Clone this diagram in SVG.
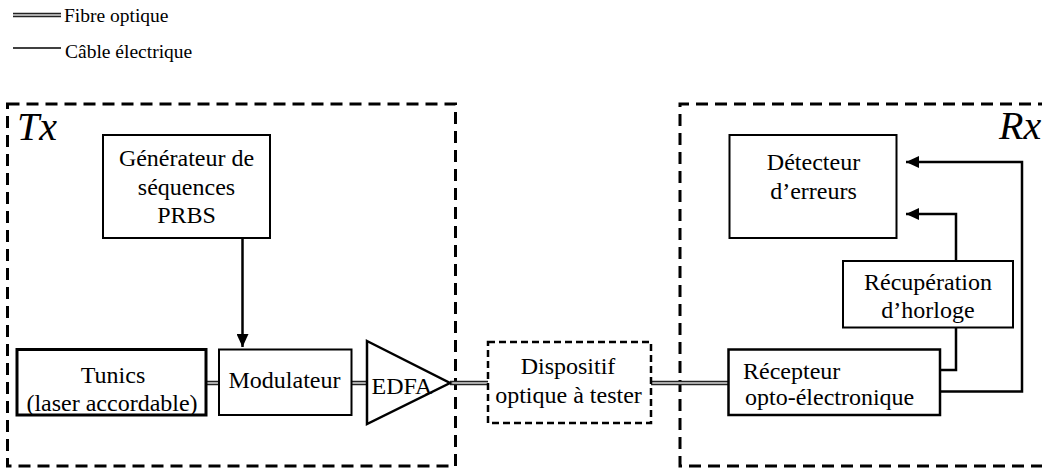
<svg xmlns="http://www.w3.org/2000/svg" width="1042" height="468" viewBox="0 0 1042 468">
<style>
text{font-family:"Liberation Serif","Times New Roman",serif;fill:#000}
.lbl{font-size:24px;text-anchor:middle}
.leg{font-size:19.5px}
.big{font-size:40px;font-style:italic}
.box{fill:#fff;stroke:#000;stroke-width:2}
.zone{fill:none;stroke:#000;stroke-width:3;stroke-dasharray:12 7}
.fo{fill:none;stroke:#222;stroke-width:4.5}
.fi{fill:none;stroke:#aaa;stroke-width:2}
.el{fill:none;stroke:#000;stroke-width:2.5}
</style>
<defs>
<marker id="ah" markerUnits="userSpaceOnUse" markerWidth="14" markerHeight="12" refX="13" refY="6" orient="auto">
<path d="M0,0 L13,6 L0,12 Z" fill="#000"/>
</marker>
</defs>
<g id="legend">
<line class="fo" x1="13" y1="15" x2="61" y2="15"/>
<line class="fi" x1="13" y1="15" x2="61" y2="15"/>
<text class="leg" x="64" y="21.5">Fibre optique</text>
<line x1="13" y1="48" x2="61" y2="48" stroke="#000" stroke-width="1.5"/>
<text class="leg" x="65" y="58">Câble électrique</text>
</g>
<g id="Tx">
<rect class="zone" x="7.5" y="104" width="448" height="362"/>
<text class="big" x="17" y="140">Tx</text>
</g>
<g id="Rx">
<path class="zone" d="M1050,104 H680 V466 H1050"/>
<text class="big" x="999" y="139">Rx</text>
</g>
<g id="connectors">
<line class="fo" x1="206" y1="383" x2="219" y2="383"/>
<line class="fi" x1="206" y1="383" x2="219" y2="383"/>
<line class="fo" x1="352" y1="383" x2="367" y2="383"/>
<line class="fi" x1="352" y1="383" x2="367" y2="383"/>
<line class="fo" x1="450" y1="383" x2="488" y2="383"/>
<line class="fi" x1="450" y1="383" x2="488" y2="383"/>
<line class="fo" x1="651" y1="383" x2="728" y2="383"/>
<line class="fi" x1="651" y1="383" x2="728" y2="383"/>
<line class="el" x1="242.5" y1="238" x2="242.5" y2="347" marker-end="url(#ah)"/>
<path class="el" d="M940,370 H956 V327"/>
<path class="el" d="M956,261 V214 H906" marker-end="url(#ah)"/>
<path class="el" d="M940,391.5 H1022 V162 H906" marker-end="url(#ah)"/>
</g>
<g id="generateur">
<rect class="box" x="103" y="135" width="167" height="103"/>
<text class="lbl" x="186.5" y="166">Générateur de</text>
<text class="lbl" x="186.5" y="195">séquences</text>
<text class="lbl" x="186.5" y="223">PRBS</text>
</g>
<g id="tunics">
<rect class="box" style="stroke-width:3" x="17" y="349.5" width="189" height="65.5"/>
<text class="lbl" x="113" y="383">Tunics</text>
<text class="lbl" x="112" y="410.5">(laser accordable)</text>
</g>
<g id="modulateur">
<rect class="box" x="219" y="349.5" width="132.5" height="65.5"/>
<text class="lbl" x="284.5" y="388">Modulateur</text>
</g>
<g id="edfa">
<path d="M367,341 L450,383 L367,424 Z" fill="#fff" stroke="#000" stroke-width="2.5"/>
<text class="lbl" x="402" y="394">EDFA</text>
</g>
<g id="dispositif">
<rect x="488" y="342" width="163" height="81" fill="#fff" stroke="#000" stroke-width="2.5" stroke-dasharray="7 4"/>
<text class="lbl" x="568" y="373.5">Dispositif</text>
<text class="lbl" x="568.5" y="403">optique à tester</text>
</g>
<g id="detecteur">
<rect class="box" x="729.5" y="135" width="167" height="103"/>
<text class="lbl" x="813.5" y="170">Détecteur</text>
<text class="lbl" x="813.5" y="198.5">d’erreurs</text>
</g>
<g id="recuperation">
<rect class="box" x="843" y="261" width="170" height="66.5"/>
<text class="lbl" x="928" y="290">Récupération</text>
<text class="lbl" x="928" y="318">d’horloge</text>
</g>
<g id="recepteur">
<rect class="box" style="stroke-width:2.5" x="728.5" y="349.5" width="211.5" height="65.5"/>
<text class="lbl" style="text-anchor:start" x="743" y="378.5">Récepteur</text>
<text class="lbl" style="text-anchor:start" x="745" y="405">opto-électronique</text>
</g>
</svg>
